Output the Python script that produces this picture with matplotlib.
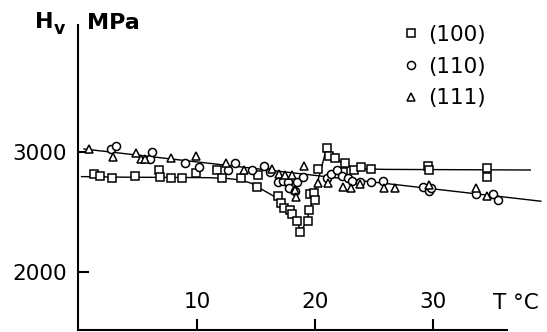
import matplotlib
matplotlib.use('Agg')
import matplotlib.pyplot as plt

plt.rcParams['font.family'] = ['DejaVu Sans']

# (100) squares
t100 = [1.25, 1.73, 2.77, 4.7, 6.8, 6.9, 7.8, 8.76, 9.95, 11.7, 12.1, 13.7, 15.2, 15.1,
        16.9, 17.1, 17.4, 17.9, 18.1, 18.5, 18.75, 19.4, 19.5, 19.6, 19.9, 20.0, 20.3,
        21.0, 21.2, 21.7, 22.4, 22.6, 23.3, 23.9, 24.8, 29.6, 29.7, 34.6, 34.6]
h100 = [2814, 2803, 2781, 2797, 2850, 2794, 2786, 2786, 2822, 2850, 2781, 2786, 2808, 2711,
        2636, 2572, 2536, 2517, 2481, 2425, 2336, 2425, 2517, 2647, 2658, 2600, 2856,
        3031, 2969, 2953, 2836, 2911, 2850, 2878, 2856, 2886, 2850, 2864, 2794]

# (110) circles
t110 = [2.7, 3.1, 6.0, 6.15, 8.95, 10.2, 12.6, 13.2, 14.7, 15.7, 16.2, 16.9, 17.3, 17.7,
        17.8, 18.3, 18.5, 19.0, 21.0, 21.4, 21.9, 22.3, 22.8, 23.2, 23.8, 24.8, 25.8,
        29.2, 29.7, 29.9, 33.7, 35.1, 35.6]
h110 = [3025, 3053, 2942, 2997, 2911, 2878, 2850, 2911, 2850, 2883, 2836, 2753, 2760, 2753,
        2697, 2675, 2753, 2794, 2781, 2820, 2850, 2800, 2781, 2760, 2753, 2753, 2758,
        2711, 2675, 2703, 2647, 2647, 2600]

# (111) triangles
t111 = [0.8, 2.85, 4.8, 5.25, 5.6, 7.8, 9.9, 12.5, 14.0, 16.4, 17.0, 17.5, 18.1, 18.3,
        18.4, 19.1, 20.3, 21.1, 22.4, 23.1, 23.8, 25.9, 26.8, 29.7, 33.7, 34.6]
h111 = [3025, 2960, 2990, 2942, 2942, 2953, 2967, 2906, 2850, 2856, 2814, 2808, 2808, 2683,
        2622, 2883, 2739, 2744, 2711, 2697, 2733, 2703, 2703, 2725, 2697, 2636]

# hand-drawn curves
t_up = [0.4, 39.2]
h_up = [3025, 2590]
t_low = [0.2, 4, 8, 11, 12.5, 13.7, 14.6, 15.3, 16.2, 16.9, 17.5, 18.0, 18.5, 18.8,
         19.2, 19.6, 20.1, 20.6, 21.0, 21.5, 22.2, 23.0, 24.0, 26, 38.3]
h_low = [2795, 2790, 2788, 2786, 2780, 2767, 2740, 2700, 2650, 2610, 2550, 2490, 2420, 2340,
         2400, 2520, 2700, 2880, 3035, 2975, 2920, 2880, 2860, 2855, 2850]

fig = plt.figure(figsize=(5.47, 3.32), dpi=100)
ax = fig.add_axes([78.3/547, 2/332, (506.7-78.3)/547, 305/332])
ax.set_xlim(-0.08, 36.3)
ax.set_ylim(1517, 4058)

ax.plot(t_up, h_up, color='black', lw=1.0, clip_on=False, zorder=2)
ax.plot(t_low, h_low, color='black', lw=1.0, clip_on=False, zorder=2)

mk = dict(linestyle='none', mfc='white', mec='black', mew=1.1, clip_on=False, zorder=3)
p1, = ax.plot(t100, h100, marker='s', ms=5.3, **mk)
p2, = ax.plot(t110, h110, marker='o', ms=5.8, **mk)
p3, = ax.plot(t111, h111, marker='^', ms=6.3, **mk)

for s in ['top', 'right']:
    ax.spines[s].set_visible(False)
for s in ['left', 'bottom']:
    ax.spines[s].set_linewidth(1.5)

ax.set_xticks([10, 20, 30])
ax.set_xticklabels(['10', '20', '30'])
ax.set_yticks([2000, 3000])
ax.set_yticklabels(['2000', '3000'])
ax.tick_params(axis='both', direction='in', length=8, width=1.5, labelsize=15.5)
ax.tick_params(axis='y', pad=8)
ax.tick_params(axis='x', pad=-27)

fig.text(35/547, 1-28/332, 'H', fontsize=16, fontweight='bold', va='baseline')
fig.text(54/547, 1-34/332, 'v', fontsize=12.5, fontweight='bold', va='baseline')
fig.text(87/547, 1-29/332, 'MPa', fontsize=16, fontweight='bold', va='baseline')
fig.text(493/547, 1-303/332, 'T °C', fontsize=15.5, va='center')

ax.legend([p1, p2, p3], ['(100)', '(110)', '(111)'], loc='upper left',
          bbox_to_anchor=(392/547, 1-14/332), bbox_transform=fig.transFigure,
          frameon=False, fontsize=15.5, handlelength=0.8, handletextpad=0.4,
          labelspacing=0.55, borderpad=0)

fig.savefig('out.png', dpi=100)
